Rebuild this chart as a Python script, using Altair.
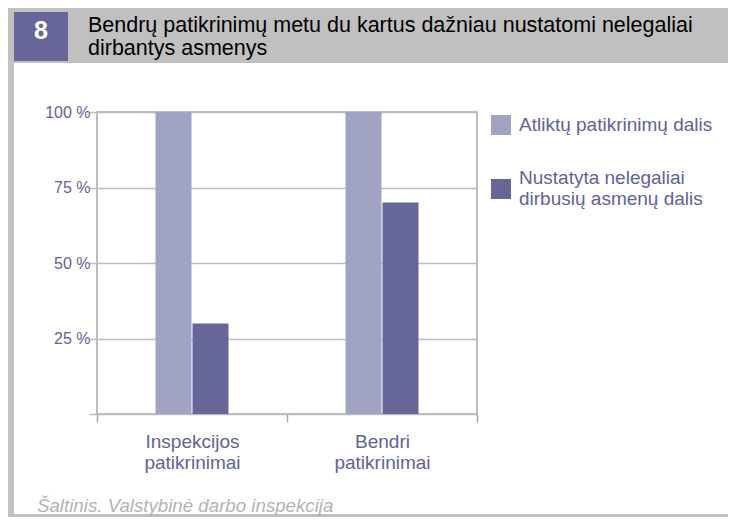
import altair as alt
import pandas as pd

categories = ["Inspekcijos\npatikrinimai", "Bendri\npatikrinimai"]
series = ["Atliktų patikrinimų dalis", "Nustatyta nelegaliai\ndirbusių asmenų dalis"]
atliktu = [100, 100]
nustatyta = [30, 70]
y_ticks = [0, 25, 50, 75, 100]
colors = ["#a1a3c2", "#666699"]
title_lines = ["Bendrų patikrinimų metu du kartus dažniau nustatomi nelegaliai", "dirbantys asmenys"]
figure_no = "8"
source = "Šaltinis. Valstybinė darbo inspekcija"

rows = []
for i, c in enumerate(categories):
    rows.append({"cat": c, "series": series[0], "value": atliktu[i]})
    rows.append({"cat": c, "series": series[1], "value": nustatyta[i]})
df = pd.DataFrame(rows)

FONT = "Liberation Sans"
TXT = "#62629a"
GRID = "#bcbcbc"
one = pd.DataFrame({"d": [0]})


def rect(x, x2, y, y2, color):
    return alt.Chart(one).mark_rect(color=color).encode(
        x=alt.value(x), x2=alt.value(x2), y=alt.value(y), y2=alt.value(y2)
    )


header = rect(-89, 631, -104, -49, "#c0c0c0")
numbox = rect(-83, -29, -100, -51, "#666699")
leftborder = rect(-89, -83, -49, 405, "#c0c0c0")
bottomband = rect(-89, 631, 402, 405, "#c0c0c0")

num_text = alt.Chart(one).mark_text(
    align="center", baseline="alphabetic", fontSize=25, fontWeight="bold",
    font=FONT, color="white"
).encode(x=alt.value(-56), y=alt.value(-73), text=alt.value(figure_no))

title_text = alt.Chart(one).mark_text(
    align="left", baseline="alphabetic", fontSize=21.5, font=FONT,
    color="black", lineHeight=23
).encode(x=alt.value(-9), y=alt.value(-80), text=alt.value(title_lines))

source_text = alt.Chart(one).mark_text(
    align="left", baseline="alphabetic", fontSize=18.7, font=FONT,
    fontStyle="italic", color="#b3b3b3"
).encode(x=alt.value(-60), y=alt.value(400), text=alt.value(source))

bars = alt.Chart(df).mark_bar().encode(
    x=alt.X(
        "cat:N", sort=categories,
        scale=alt.Scale(paddingInner=0, paddingOuter=0),
        axis=alt.Axis(
            title=None, labelExpr="split(datum.label, '\\n')", labelAngle=0,
            tickBand="extent", ticks=True, tickSize=8, tickColor="#a6a6a6",
            tickWidth=1.5, domain=False, grid=False, labelFontSize=19,
            labelColor=TXT, labelFont=FONT, labelPadding=10, labelLineHeight=21,
        ),
    ),
    xOffset=alt.XOffset(
        "series:N", sort=series,
        scale=alt.Scale(range=[58.5, 131.5], paddingInner=0.027, paddingOuter=0),
    ),
    y=alt.Y(
        "value:Q", scale=alt.Scale(domain=[0, 100], nice=False),
        axis=alt.Axis(
            title=None, values=y_ticks,
            labelExpr="datum.value == 0 ? '' : datum.value + ' %'",
            grid=True, gridColor=GRID, gridWidth=1.5, tickColor=GRID,
            tickWidth=1.5, tickSize=8, domain=False, labelPadding=-1,
            labelFontSize=16, labelColor=TXT, labelFont=FONT,
        ),
    ),
    color=alt.Color(
        "series:N", sort=series,
        scale=alt.Scale(domain=series, range=colors),
        legend=alt.Legend(
            title=None, orient="none", legendX=394, legendY=3,
            direction="vertical", symbolType="square", symbolSize=400,
            symbolStrokeWidth=0, labelFontSize=19, labelFont=FONT,
            labelColor=TXT, labelOffset=8,
            labelExpr="split(datum.label, '\\n')",
            labelBaseline={"expr": "indexof(datum.value, '\\n') >= 0 ? 'line-bottom' : 'middle'"},
            rowPadding=34, padding=0, labelLimit=300,
        ),
    ),
)

chart = alt.layer(
    header, numbox, leftborder, bottomband, num_text, title_text, source_text, bars
).properties(
    width=380, height=302, autosize="none",
    padding={"left": 89, "top": 104, "right": 251, "bottom": 103},
).configure_view(stroke="#a6a6a6", strokeWidth=1.5)

chart.save("out.html", embed_options={"renderer": "svg", "actions": False})
